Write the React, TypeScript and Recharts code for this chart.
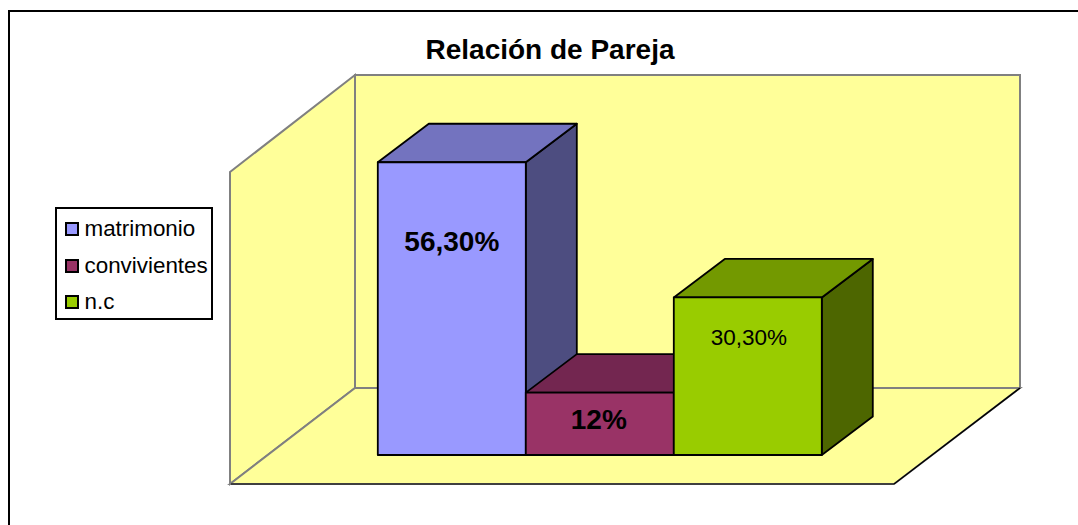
import { BarChart, Bar, XAxis, YAxis, Legend, LabelList, Customized } from "recharts";

const categories = ["Relación de Pareja"];
const seriesNames = ["matrimonio", "convivientes", "n.c"];
const seriesValues = [56.3, 12, 30.3];
const seriesLabels = ["56,30%", "12%", "30,30%"];
const frontColors = ["#9999ff", "#993366", "#99cc00"];
const topColors = ["#7373bf", "#732650", "#739900"];
const sideColors = ["#4d4d80", "#4d1a33", "#4d6600"];
const labelFonts = [
  { fontSize: 28, fontWeight: 700, offset: 69, dx: 0 },
  { fontSize: 28, fontWeight: 700, offset: 17, dx: -1 },
  { fontSize: 22.5, fontWeight: 400, offset: 32, dx: 1 },
];

const DEPTH_X = 51;
const DEPTH_Y = -38.5;
const FONT = "'Liberation Sans', Arial, sans-serif";

const data = categories.map((name) => {
  const row: Record<string, string | number> = { name };
  seriesNames.forEach((s, i) => {
    row[s] = seriesValues[i];
  });
  return row;
});

const pts = (list: number[][]) => list.map((p) => p.join(",")).join(" ");

// back wall, side wall, floor and title, behind the bars
const Room = () => (
  <g>
    <polygon points={pts([[355, 75], [1020, 75], [1020, 388], [355, 388]])} fill="#ffff99" stroke="#808080" strokeWidth={2} />
    <polygon points={pts([[230, 172], [355, 75], [355, 388], [230, 484]])} fill="#ffff99" stroke="#808080" strokeWidth={2} />
    <polygon points={pts([[230, 484], [355, 388], [1020, 388], [894, 484]])} fill="#ffff99" stroke="#808080" strokeWidth={2} />
    <line x1={231} y1={484} x2={894} y2={484} stroke="#000" strokeWidth={1.2} />
    <line x1={894} y1={484} x2={1020} y2={388} stroke="#000" strokeWidth={1.5} />
    <text x={550} y={59} textAnchor="middle" fontFamily={FONT} fontSize={28} fontWeight={700} fill="#000">
      {categories[0]}
    </text>
  </g>
);

const makeBox = (index: number) => {
  const Box = ({ x, y, width, height }: any) => {
    const r = x + width;
    const b = y + height;
    return (
      <g stroke="#000" strokeWidth={1.8} strokeLinejoin="round">
        <polygon points={pts([[r, y], [r + DEPTH_X, y + DEPTH_Y], [r + DEPTH_X, b + DEPTH_Y], [r, b]])} fill={sideColors[index]} />
        <polygon points={pts([[x, y], [x + DEPTH_X, y + DEPTH_Y], [r + DEPTH_X, y + DEPTH_Y], [r, y]])} fill={topColors[index]} />
        <rect x={x} y={y} width={width} height={height} fill={frontColors[index]} />
      </g>
    );
  };
  return Box;
};

const LegendBox = ({ payload }: any) => (
  <div
    style={{
      boxSizing: "border-box",
      width: 158,
      height: 113,
      border: "2px solid #000",
      background: "#fff",
      paddingTop: 2,
      fontFamily: FONT,
      fontSize: 22.4,
      color: "#000",
    }}
  >
    {(payload || []).map((item: any) => (
      <div key={item.value} style={{ display: "flex", alignItems: "center", height: 36.5, paddingLeft: 8 }}>
        <span
          style={{
            boxSizing: "border-box",
            width: 14,
            height: 14,
            border: "2px solid #000",
            background: item.color,
            marginRight: 6,
          }}
        />
        {item.value}
      </div>
    ))}
  </div>
);

export default function App() {
  return (
    <div style={{ position: "absolute", left: 0, top: 0, width: 1078, height: 525, background: "#fff", overflow: "hidden" }}>
      <div style={{ position: "absolute", left: 8, top: 10, width: 1078, height: 525, borderLeft: "2px solid #000", borderTop: "2px solid #000" }} />
      <BarChart
        width={1078}
        height={525}
        data={data}
        margin={{ top: 143, right: 257.2, bottom: 70, left: 377.8 }}
        barCategoryGap={0}
        barGap={0}
        style={{ position: "absolute", left: 0, top: 0 }}
      >
        <Customized component={Room} />
        <XAxis dataKey="name" hide />
        <YAxis hide domain={[0, 60]} />
        <Legend
          layout="vertical"
          align="center"
          verticalAlign="middle"
          itemSorter={null}
          content={LegendBox}
          wrapperStyle={{ left: 54.5, top: 207, width: 158, height: 113 }}
        />
        {seriesNames.map((name, i) => (
          <Bar
            key={name}
            name={name}
            dataKey={(row: any) => row[name]}
            fill={frontColors[i]}
            shape={makeBox(i)}
            isAnimationActive={false}
          >
            <LabelList
              position="insideTop"
              offset={labelFonts[i].offset}
              dx={labelFonts[i].dx}
              formatter={() => seriesLabels[i]}
              fill="#000"
              fontFamily={FONT}
              fontSize={labelFonts[i].fontSize}
              fontWeight={labelFonts[i].fontWeight}
            />
          </Bar>
        ))}
      </BarChart>
    </div>
  );
}
